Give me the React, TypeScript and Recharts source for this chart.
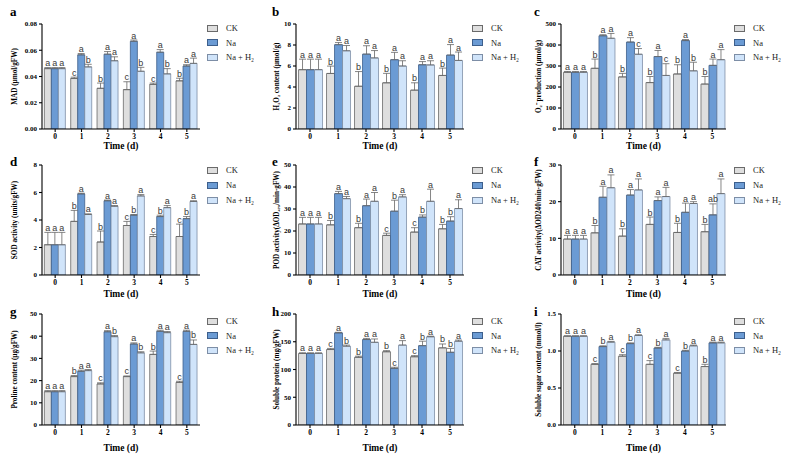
import React from "react";
import { Bar, BarChart, ErrorBar, LabelList, XAxis, YAxis } from "recharts";

const days = ["0", "1", "2", "3", "4", "5"];
const seriesNames = ["CK", "Na", "Na + H₂"];

// each panel: [CK, Na, Na + H2] means, upward error, significance letters per day
const madMean = [
  [0.046, 0.0385, 0.031, 0.03, 0.034, 0.0367],
  [0.046, 0.0565, 0.057, 0.0668, 0.0585, 0.048],
  [0.046, 0.0473, 0.052, 0.044, 0.042, 0.05],
];
const madErr = [
  [0.0008, 0.001, 0.004, 0.006, 0.001, 0.002],
  [0.0008, 0.001, 0.002, 0.001, 0.002, 0.001],
  [0.0008, 0.002, 0.003, 0.003, 0.004, 0.004],
];
const madSig = ["a c b c c b", "a a a a a a", "a b a b b a"];
const madTicks = [0, 0.02, 0.04, 0.06, 0.08];

const h2o2Mean = [
  [5.65, 5.29, 4.07, 4.4, 3.7, 5.1],
  [5.65, 8.03, 7.13, 6.6, 6.12, 7.04],
  [5.65, 7.45, 6.77, 6.0, 6.1, 6.53],
];
const h2o2Err = [
  [1.0, 0.7, 1.4, 0.9, 0.7, 0.7],
  [1.0, 0.2, 0.8, 0.7, 0.3, 1.0],
  [1.0, 0.5, 0.7, 0.5, 0.4, 0.8],
];
const h2o2Sig = ["a b b b b b", "a a a a a a", "a a a a a a"];
const h2o2Ticks = [0, 2, 4, 6, 8, 10];

const o2Mean = [
  [270, 289, 248, 221, 262, 214],
  [270, 444, 414, 345, 421, 303],
  [270, 432, 356, 255, 277, 330],
];
const o2Err = [
  [4, 44, 17, 29, 44, 36],
  [4, 5, 21, 29, 5, 30],
  [4, 23, 27, 56, 41, 48],
];
const o2Sig = ["a b b b b b", "a a a a a a", "a a c c b a"];
const o2Ticks = [0, 100, 200, 300, 400, 500];

const sodMean = [
  [2.2, 3.9, 2.4, 3.6, 2.8, 2.8],
  [2.2, 5.9, 5.4, 4.35, 4.25, 4.1],
  [2.2, 4.4, 5.0, 5.75, 4.9, 5.35],
];
const sodErr = [
  [0.9, 0.8, 0.8, 0.3, 0.15, 0.9],
  [0.9, 0.05, 0.05, 0.05, 0.1, 0.15],
  [0.9, 0.05, 0.05, 0.1, 0.15, 0.05],
];
const sodSig = ["a b b c c c", "a a a b b b", "a a a a a a"];
const sodTicks = [0, 2, 4, 6, 8];

const podMean = [
  [23.2, 22.8, 21.5, 18, 19.5, 21],
  [23.2, 37, 31.5, 29, 26.3, 24.5],
  [23.2, 34.7, 33.5, 35.5, 33.5, 30.2],
];
const podErr = [
  [3, 2, 2, 1, 2, 2],
  [3, 1, 3, 5, 1, 2],
  [3, 1, 4, 1, 5.5, 4],
];
const podSig = ["a b b c c b", "a a a b b b", "a a a a a a"];
const podTicks = [0, 10, 20, 30, 40, 50];

const catMean = [
  [9.8, 11.5, 10.6, 13.8, 11.6, 11.8],
  [9.8, 21.2, 21.8, 20.3, 17.1, 16.4],
  [9.8, 23.8, 23.2, 21.4, 19.5, 22.2],
];
const catErr = [
  [1, 2, 2, 2, 2.5, 2],
  [1, 3, 1.5, 1, 2.5, 3],
  [1, 3.5, 3, 2.5, 0.5, 4],
];
const catSig = ["a b b b b b", "a a a a a ab", "a a a a a a"];
const catTicks = [0, 10, 20, 30];

const proMean = [
  [15, 21.8, 18.5, 21.8, 31.8, 19.2],
  [15, 24.2, 42, 36.5, 42.2, 42.2],
  [15, 24.5, 39.8, 32.5, 41.6, 36.3],
];
const proErr = [
  [0.5, 0.5, 0.5, 0.3, 1.5, 0.5],
  [0.5, 0.5, 0.5, 0.5, 0.5, 0.5],
  [0.5, 0.5, 0.5, 0.5, 0.5, 2],
];
const proSig = ["a b c c b c", "a a a a a a", "a a b b a b"];
const proTicks = [0, 10, 20, 30, 40, 50];

const protMean = [
  [129, 136, 122, 132, 123, 139],
  [129, 166, 154, 102, 143, 131],
  [129, 142, 149, 144, 159, 151],
];
const protErr = [
  [1, 2, 2, 2, 2, 7],
  [1, 1, 2, 2, 8, 7],
  [1, 2, 6, 8, 1, 2],
];
const protSig = ["a c b b c b", "a a a c b b", "a b a a a a"];
const protTicks = [0, 50, 100, 150, 200];

const sugMean = [
  [1.2, 0.82, 0.93, 0.82, 0.7, 0.79],
  [1.2, 1.06, 1.1, 1.04, 1.0, 1.11],
  [1.2, 1.12, 1.21, 1.15, 1.07, 1.11],
];
const sugErr = [
  [0.005, 0.01, 0.02, 0.05, 0.01, 0.03],
  [0.005, 0.01, 0.01, 0.01, 0.01, 0.01],
  [0.005, 0.01, 0.01, 0.02, 0.01, 0.01],
];
const sugSig = ["a c c c c b", "a b b b b a", "a a a a a a"];
const sugTicks = [0, 0.5, 1.0, 1.5];

const fills = ["#dedede", "#6b9bd4", "#d0e4fa"];
const strokes = ["#6a6a6a", "#3d5f8c", "#7d8ea6"];
const keys = ["ck", "na", "h2"];

const serif = "'Liberation Serif', 'Times New Roman', serif";

const rows = [
  { top: 0, h: 152, plotTop: 24, plotBottom: 129, legendY: 28, legendGap: 14.5 },
  { top: 150, h: 150, plotTop: 165, plotBottom: 275, legendY: 170, legendGap: 15 },
  { top: 300, h: 154, plotTop: 314, plotBottom: 425, legendY: 321, legendGap: 14.5 },
];
const cols = [
  { left: 0, w: 262, axis: 42, right: 200, legendX: 207 },
  { left: 262, w: 262, axis: 296, right: 464, legendX: 472 },
  { left: 524, w: 264, axis: 561, right: 726, legendX: 734 },
];

type PanelDef = {
  tag: string;
  label: string;
  mean: number[][];
  err: number[][];
  sig: string[];
  ticks: number[];
  digits: number;
};

const panels: PanelDef[] = [
  { tag: "a", label: "MAD (μmol/gFW)", mean: madMean, err: madErr, sig: madSig, ticks: madTicks, digits: 2 },
  { tag: "b", label: "H₂O₂ content (μmol/g)", mean: h2o2Mean, err: h2o2Err, sig: h2o2Sig, ticks: h2o2Ticks, digits: 0 },
  { tag: "c", label: "O₂⁻ production (μmol/g)", mean: o2Mean, err: o2Err, sig: o2Sig, ticks: o2Ticks, digits: 0 },
  { tag: "d", label: "SOD activity (units/gFW)", mean: sodMean, err: sodErr, sig: sodSig, ticks: sodTicks, digits: 0 },
  { tag: "e", label: "POD activity(ΔOD₄₇₀/min·gFW)", mean: podMean, err: podErr, sig: podSig, ticks: podTicks, digits: 0 },
  { tag: "f", label: "CAT activity(ΔOD240/min·gFW)", mean: catMean, err: catErr, sig: catSig, ticks: catTicks, digits: 0 },
  { tag: "g", label: "Proline content (μg/gFW)", mean: proMean, err: proErr, sig: proSig, ticks: proTicks, digits: 0 },
  { tag: "h", label: "Soluble protein (mg/gFW)", mean: protMean, err: protErr, sig: protSig, ticks: protTicks, digits: 0 },
  { tag: "i", label: "Soluble sugar content (mmol/l)", mean: sugMean, err: sugErr, sig: sugSig, ticks: sugTicks, digits: 1 },
];

// letter sits just above the top of the error whisker
const letterContent = (mean: number[], err: number[]) => (p: any) => {
  const vb = p.viewBox || p;
  const { x, y, width, height } = vb;
  const i = p.index;
  const v = mean[i];
  const pxPerUnit = v ? height / v : 0;
  const top = y - err[i] * pxPerUnit - 1.5;
  return (
    <text x={x + width / 2} y={top} textAnchor="middle" fontSize={9}
      fontFamily="'Liberation Sans', Arial, sans-serif" fill="#3a3a3a">
      {p.value}
    </text>
  );
};

function Panel({ def, row, col }: { def: PanelDef; row: number; col: number }) {
  const r = rows[row];
  const c = cols[col];
  const sigs = def.sig.map((s) => s.split(" "));
  const data = days.map((d, i) => {
    const o: any = { day: d };
    keys.forEach((k, s) => {
      o[k] = def.mean[s][i];
      o[k + "E"] = [0, def.err[s][i]];
      o[k + "S"] = sigs[s][i];
    });
    return o;
  });
  const max = def.ticks[def.ticks.length - 1];
  return (
    <div style={{ position: "absolute", left: c.left, top: r.top, width: c.w, height: r.h }}>
      <BarChart
        width={c.w}
        height={r.h}
        data={data}
        barCategoryGap="9%"
        barGap={0}
        margin={{ top: r.plotTop - r.top, right: c.left + c.w - c.right, left: 0, bottom: 0 }}
        style={{ overflow: "visible" }}
      >
        <XAxis
          dataKey="day"
          height={r.top + r.h - r.plotBottom}
          stroke="#000"
          strokeWidth={1.1}
          tickSize={3}
          tickMargin={2}
          interval={0}
          tick={{ fontSize: 7.5, fontFamily: serif, fontWeight: "bold", fill: "#000" }}
          label={(p: any) => {
            const vb = p.viewBox;
            return (
              <text x={vb.x + vb.width / 2} y={vb.y + vb.height - 3} textAnchor="middle"
                fontSize={9.5} fontFamily={serif} fontWeight="bold" fill="#000">
                Time (d)
              </text>
            );
          }}
        />
        <YAxis
          width={c.axis - c.left}
          domain={[0, max]}
          ticks={def.ticks}
          interval={0}
          allowDataOverflow
          stroke="#000"
          strokeWidth={1.1}
          tickSize={3}
          tickMargin={2}
          tickFormatter={(v: number) => v.toFixed(def.digits)}
          tick={{ fontSize: 7, fontFamily: serif, fontWeight: "bold", fill: "#000" }}
          label={(p: any) => {
            const vb = p.viewBox;
            const cy = vb.y + vb.height / 2;
            return (
              <text x={15} y={cy} transform={`rotate(-90 15 ${cy})`} textAnchor="middle"
                dominantBaseline="central" fontSize={7.2} fontFamily={serif} fontWeight="bold" fill="#000">
                {def.label}
              </text>
            );
          }}
        />
        {keys.map((k, s) => (
          <Bar key={k} dataKey={k} name={seriesNames[s]} fill={fills[s]} stroke={strokes[s]}
            strokeWidth={0.8} isAnimationActive={false}>
            <ErrorBar dataKey={k + "E"} width={3.5} stroke="#666" strokeWidth={0.8} />
            <LabelList dataKey={k + "S"} content={letterContent(def.mean[s], def.err[s])} />
          </Bar>
        ))}
      </BarChart>
      <div style={{ position: "absolute", left: 10, top: 4, fontSize: 13, fontFamily: serif, fontWeight: "bold", color: "#000" }}>
        {def.tag}
      </div>
      {seriesNames.map((n, s) => (
        <div key={n} style={{
          position: "absolute", left: c.legendX - c.left, top: r.legendY - r.top + s * r.legendGap - 6,
          display: "flex", alignItems: "center", fontSize: 8.5, fontFamily: serif, fontWeight: 400,
          color: "#222", whiteSpace: "nowrap", lineHeight: "12px",
        }}>
          <span style={{
            display: "inline-block", width: 9, height: 5, background: fills[s],
            border: `1px solid ${strokes[s]}`, marginRight: 8,
          }} />
          {n}
        </div>
      ))}
    </div>
  );
}

export default function App() {
  return (
    <div style={{ position: "absolute", left: 0, top: 0, width: 788, height: 455, background: "#fff" }}>
      {panels.map((p, i) => (
        <Panel key={p.tag} def={p} row={Math.floor(i / 3)} col={i % 3} />
      ))}
    </div>
  );
}
